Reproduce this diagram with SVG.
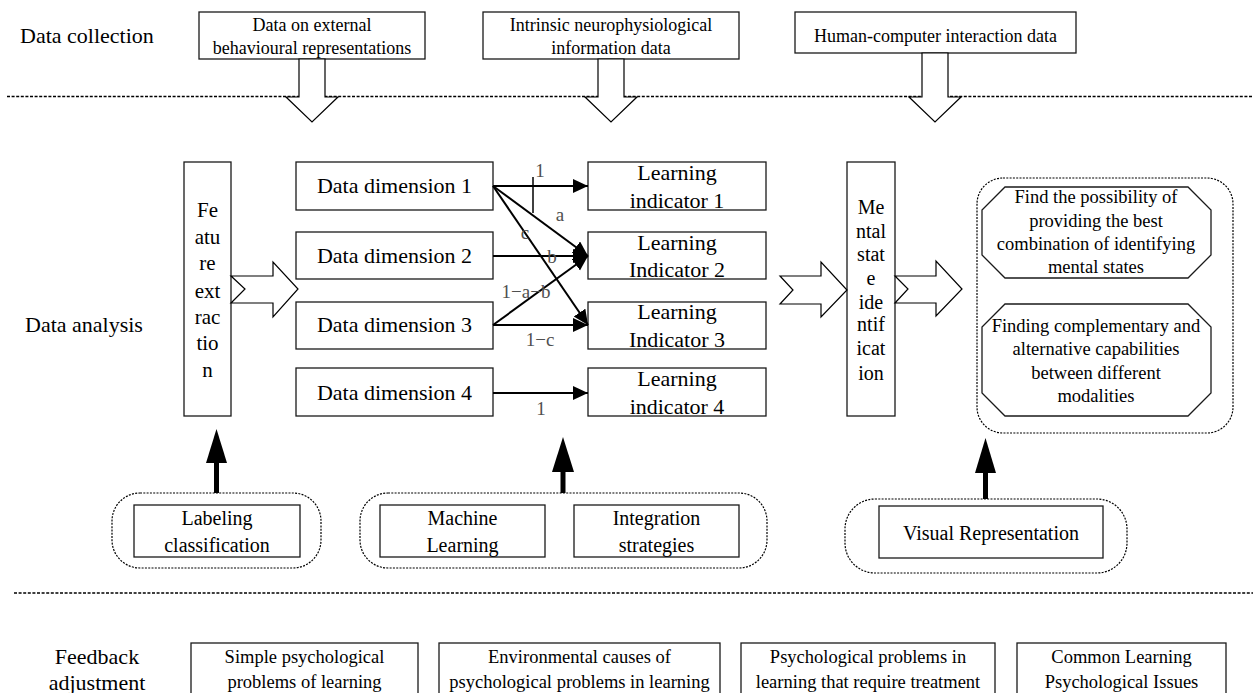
<svg xmlns="http://www.w3.org/2000/svg" width="1253" height="693" viewBox="0 0 1253 693">
<defs>
<style>
text{font-family:"Liberation Serif","Times New Roman",serif;fill:#000}
.sec{font-size:22px}
.t18{font-size:18px;text-anchor:middle}
.t185{font-size:18.5px;text-anchor:middle}
.t20{font-size:20px;text-anchor:middle}
.t21{font-size:21px;text-anchor:middle}
.t22{font-size:22px;text-anchor:middle}
.w{font-size:19px;text-anchor:middle;fill:#505050}
.box{fill:#fff;stroke:#1a1a1a;stroke-width:1.3}
.hollow{fill:#fff;stroke:#000;stroke-width:1.2}
.dot{fill:none;stroke:#000;stroke-width:1.2;stroke-dasharray:2 1.3}
.sep{fill:none;stroke:#000;stroke-width:1.6;stroke-dasharray:3 1.6}
.conn{stroke:#000;stroke-width:2;fill:none}
.up{stroke:#000;stroke-width:5;fill:none}
</style>
<marker id="ah" markerUnits="userSpaceOnUse" markerWidth="16" markerHeight="16" refX="15" refY="7" orient="auto">
<path d="M0,0 L15,7 L0,14 Z" fill="#000"/>
</marker>
</defs>
<rect width="1253" height="693" fill="#fff"/>

<g id="separators">
<line class="sep" x1="7" y1="96.5" x2="1253" y2="96.5"/>
<line class="sep" x1="14" y1="593" x2="1253" y2="593"/>
</g>

<g id="section-labels">
<text class="sec" x="20" y="43">Data collection</text>
<text class="sec" x="25" y="332">Data analysis</text>
<text class="sec" x="97" y="664" text-anchor="middle">Feedback</text>
<text class="sec" x="97" y="690" text-anchor="middle">adjustment</text>
</g>

<g id="src-external">
<rect class="box" x="199" y="12" width="226" height="47"/>
<text class="t18" x="312" y="31">Data on external</text>
<text class="t18" x="312" y="54">behavioural representations</text>
</g>
<g id="src-neuro">
<rect class="box" x="483" y="12" width="256" height="47"/>
<text class="t18" x="611" y="31">Intrinsic neurophysiological</text>
<text class="t18" x="611" y="54">information data</text>
</g>
<g id="src-hci">
<rect class="box" x="795" y="12" width="281" height="41"/>
<text class="t18" x="935.5" y="42">Human-computer interaction data</text>
</g>

<g id="feature-extraction">
<rect class="box" x="184" y="162" width="47" height="254"/>
<text class="t21" x="207.5" y="217">Fe</text>
<text class="t21" x="207.5" y="244">atu</text>
<text class="t21" x="207.5" y="270">re</text>
<text class="t21" x="207.5" y="298">ext</text>
<text class="t21" x="207.5" y="324">rac</text>
<text class="t21" x="207.5" y="350">tio</text>
<text class="t21" x="207.5" y="377">n</text>
</g>

<g id="dd1"><rect class="box" x="296" y="162" width="197" height="48"/><text class="t22" x="394.5" y="193">Data dimension 1</text></g>
<g id="dd2"><rect class="box" x="296" y="232" width="197" height="47"/><text class="t22" x="394.5" y="263">Data dimension 2</text></g>
<g id="dd3"><rect class="box" x="296" y="302" width="197" height="47"/><text class="t22" x="394.5" y="332">Data dimension 3</text></g>
<g id="dd4"><rect class="box" x="296" y="368" width="197" height="48"/><text class="t22" x="394.5" y="400">Data dimension 4</text></g>

<g id="li1"><rect class="box" x="588" y="162" width="178" height="48"/><text class="t22" x="677" y="180">Learning</text><text class="t22" x="677" y="208">indicator 1</text></g>
<g id="li2"><rect class="box" x="588" y="232" width="178" height="47"/><text class="t22" x="677" y="250">Learning</text><text class="t22" x="677" y="277">Indicator 2</text></g>
<g id="li3"><rect class="box" x="588" y="302" width="178" height="47"/><text class="t22" x="677" y="319">Learning</text><text class="t22" x="677" y="347">Indicator 3</text></g>
<g id="li4"><rect class="box" x="588" y="368" width="178" height="48"/><text class="t22" x="677" y="386">Learning</text><text class="t22" x="677" y="414">indicator 4</text></g>

<g id="mental-state">
<rect class="box" x="847" y="162" width="48" height="254"/>
<text class="t20" x="871" y="214">Me</text>
<text class="t20" x="871" y="238">ntal</text>
<text class="t20" x="871" y="261">stat</text>
<text class="t20" x="871" y="285">e</text>
<text class="t20" x="871" y="309">ide</text>
<text class="t20" x="871" y="331">ntif</text>
<text class="t20" x="871" y="355">icat</text>
<text class="t20" x="871" y="380">ion</text>
</g>

<g id="outcomes">
<rect class="dot" x="977" y="178" width="256" height="255" rx="26" ry="26"/>
<g id="outcome-best">
<polygon class="box" points="1005,187 1188,187 1211,210 1211,255 1188,278 1005,278 982,255 982,210"/>
<text class="t185" x="1096" y="203">Find the possibility of</text>
<text class="t185" x="1096" y="227">providing the best</text>
<text class="t185" x="1096" y="250">combination of identifying</text>
<text class="t185" x="1096" y="273">mental states</text>
</g>
<g id="outcome-complementary">
<polygon class="box" points="1005,304 1188,304 1211,327 1211,393 1188,416 1005,416 982,393 982,327"/>
<text class="t185" x="1096" y="332">Finding complementary and</text>
<text class="t185" x="1096" y="355">alternative capabilities</text>
<text class="t185" x="1096" y="379">between different</text>
<text class="t185" x="1096" y="402">modalities</text>
</g>
</g>

<g id="support-labeling">
<rect class="dot" x="112" y="493" width="209" height="75" rx="28" ry="28"/>
<rect class="box" x="134" y="505" width="166" height="52"/>
<text class="t20" x="217" y="525">Labeling</text>
<text class="t20" x="217" y="552">classification</text>
</g>
<g id="support-ml">
<rect class="dot" x="360" y="493" width="407" height="75" rx="28" ry="28"/>
<g id="machine-learning">
<rect class="box" x="380" y="505" width="165" height="52"/>
<text class="t20" x="462.5" y="525">Machine</text>
<text class="t20" x="462.5" y="552">Learning</text>
</g>
<g id="integration">
<rect class="box" x="574" y="505" width="165" height="52"/>
<text class="t20" x="656.5" y="525">Integration</text>
<text class="t20" x="656.5" y="552">strategies</text>
</g>
</g>
<g id="support-visual">
<rect class="dot" x="845" y="499" width="282" height="74" rx="30" ry="30"/>
<rect class="box" x="879" y="506" width="224" height="52"/>
<text class="t20" x="991" y="540">Visual Representation</text>
</g>

<g id="fb1"><rect class="box" x="191" y="643" width="227" height="60"/><text class="t185" x="304.5" y="663">Simple psychological</text><text class="t185" x="304.5" y="688">problems of learning</text></g>
<g id="fb2"><rect class="box" x="439" y="643" width="281" height="60"/><text class="t185" x="579.5" y="663">Environmental causes of</text><text class="t185" x="579.5" y="688">psychological problems in learning</text></g>
<g id="fb3"><rect class="box" x="741" y="643" width="254" height="60"/><text class="t185" x="868" y="663">Psychological problems in</text><text class="t185" x="868" y="688">learning that require treatment</text></g>
<g id="fb4"><rect class="box" x="1017" y="643" width="209" height="60"/><text class="t185" x="1121.5" y="663">Common Learning</text><text class="t185" x="1121.5" y="688">Psychological Issues</text></g>

<g id="connectors">
<polygon class="hollow" points="299,59 325,59 325,97 338,97 312,122 286,97 299,97"/>
<polygon class="hollow" points="598,59 624,59 624,97 637,97 611,122 585,97 598,97"/>
<polygon class="hollow" points="922,53 948,53 948,97 961,97 935,122 909,97 922,97"/>

<polygon class="hollow" points="231,276 273,276 273,262 298,289 273,317 273,303 231,303 245,289"/>
<polygon class="hollow" points="780,276 821,276 821,262 847,290 821,317 821,304 780,304 793,290"/>
<polygon class="hollow" points="895,276 936,276 936,261 962,289 936,316 936,303 895,303 908,289"/>

<line class="conn" x1="493" y1="186" x2="588" y2="186" marker-end="url(#ah)"/>
<line class="conn" x1="493" y1="186" x2="588" y2="256" marker-end="url(#ah)"/>
<line class="conn" x1="493" y1="186" x2="588" y2="325" marker-end="url(#ah)"/>
<line class="conn" x1="493" y1="256" x2="588" y2="256" marker-end="url(#ah)"/>
<line class="conn" x1="493" y1="325" x2="588" y2="256" marker-end="url(#ah)"/>
<line class="conn" x1="493" y1="325" x2="588" y2="325" marker-end="url(#ah)"/>
<line class="conn" x1="493" y1="393" x2="588" y2="393" marker-end="url(#ah)"/>
<line x1="533" y1="177" x2="533" y2="213" stroke="#000" stroke-width="1.5"/>

<text class="w" x="540" y="177">1</text>
<text class="w" x="560" y="221">a</text>
<text class="w" x="525" y="239">c</text>
<text class="w" x="552" y="263">b</text>
<text class="w" x="526" y="298">1−a−b</text>
<text class="w" x="540" y="346">1−c</text>
<text class="w" x="541" y="415">1</text>

<line class="up" x1="216.5" y1="460" x2="216.5" y2="493"/>
<polygon points="216.5,429 227,463 206,463" fill="#000"/>
<line class="up" x1="563" y1="469" x2="563" y2="493"/>
<polygon points="563,437 574,472 552,472" fill="#000"/>
<line class="up" x1="985.5" y1="470" x2="985.5" y2="499"/>
<polygon points="985.5,438 996,473 975,473" fill="#000"/>
</g>
</svg>
